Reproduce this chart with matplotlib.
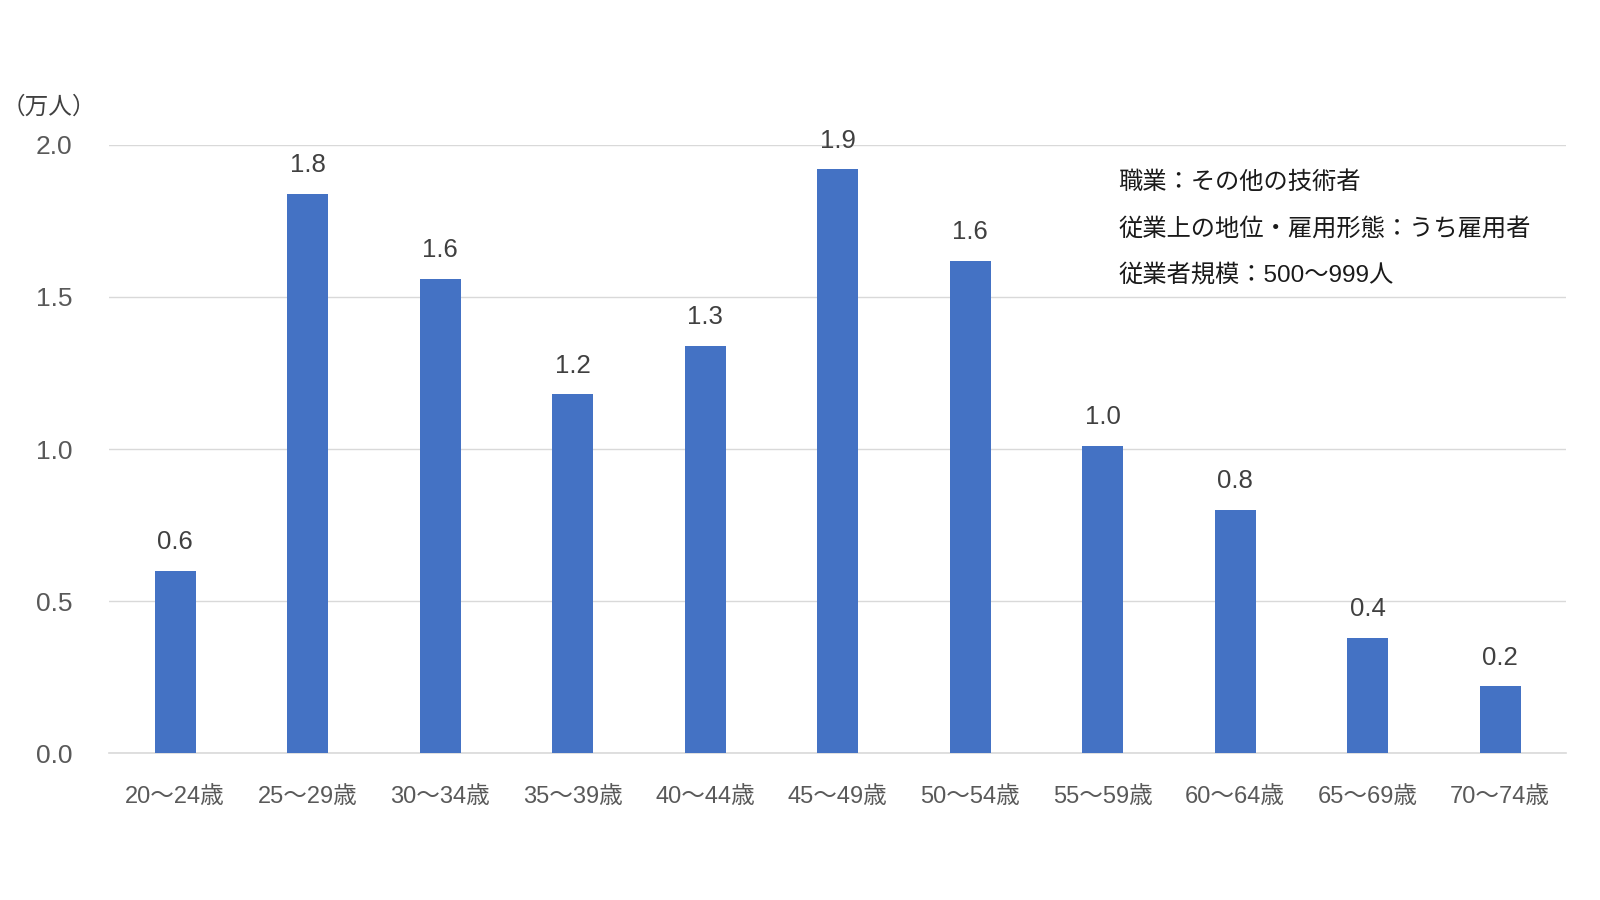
import matplotlib
matplotlib.use("Agg")
import matplotlib.pyplot as plt

# 数字・ラテン文字は Arial 相当、和文は Noto CJK にフォールバック
plt.rcParams["font.family"] = ["Liberation Sans", "Noto Sans CJK JP", "DejaVu Sans"]

# 年齢階級別の人数（万人）
AGE_GROUPS = ["20～24歳", "25～29歳", "30～34歳", "35～39歳", "40～44歳",
              "45～49歳", "50～54歳", "55～59歳", "60～64歳", "65～69歳", "70～74歳"]
VALUES = [0.60, 1.84, 1.56, 1.18, 1.34, 1.92, 1.62, 1.01, 0.80, 0.38, 0.22]
Y_TICKS = [0.0, 0.5, 1.0, 1.5, 2.0]
NOTE_LINES = ["職業：その他の技術者",
              "従業上の地位・雇用形態：うち雇用者",
              "従業者規模：500～999人"]
UNIT = "（万人）"

BAR_COLOR = "#4472C4"
TICK_COLOR = "#595959"
LABEL_COLOR = "#404040"
GRID_COLOR = "#D9D9D9"

fig = plt.figure(figsize=(16, 9), dpi=100)
ax = fig.add_axes([0.068, 0.1633, 0.911, 0.6756])

x = range(len(AGE_GROUPS))
bars = ax.bar(x, VALUES, width=0.31, color=BAR_COLOR, zorder=3)

for rect, v in zip(bars, VALUES):
    ax.annotate(f"{v:.1f}", (rect.get_x() + rect.get_width() / 2, v),
                xytext=(0, 15.5), textcoords="offset points",
                ha="center", va="baseline", fontsize=18.5, color=LABEL_COLOR,
                annotation_clip=False)

ax.set_xlim(-0.5, len(AGE_GROUPS) - 0.5)
ax.set_ylim(0, 2.0)
ax.set_yticks(Y_TICKS)
ax.set_yticklabels([f"{t:.1f}" for t in Y_TICKS])
ax.set_xticks(list(x))
ax.set_xticklabels(AGE_GROUPS)
ax.tick_params(axis="both", length=0, labelcolor=TICK_COLOR)
ax.tick_params(axis="y", pad=26, labelsize=19)
ax.tick_params(axis="x", pad=23.5, labelsize=17)

ax.grid(axis="y", color=GRID_COLOR, linewidth=1, zorder=0)
for side in ["left", "right", "top"]:
    ax.spines[side].set_visible(False)
ax.spines["bottom"].set_color(GRID_COLOR)
ax.spines["bottom"].set_linewidth(1.2)

fig.text(0.0306, 0.881, UNIT, fontsize=17, color=LABEL_COLOR,
         ha="center", va="center")

NOTE_Y = [0.797, 0.7455, 0.6935]
for y, line in zip(NOTE_Y, NOTE_LINES):
    fig.text(0.699, y, line, fontsize=17.5, color="#1a1a1a",
             va="center", ha="left")

fig.savefig("out.png", dpi=100, facecolor="white")
